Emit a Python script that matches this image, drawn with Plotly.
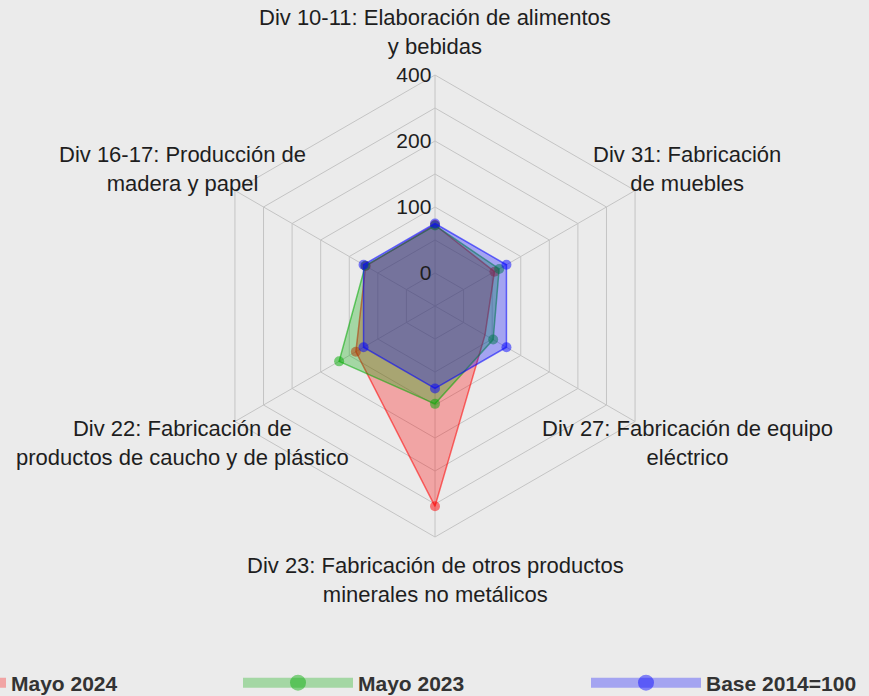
import numpy as np
import plotly.graph_objects as go

# ---- data -------------------------------------------------------------
CATEGORIES = [
    "Div 10-11: Elaboración de alimentos<br>y bebidas",
    "Div 31: Fabricación<br>de muebles",
    "Div 27: Fabricación de equipo<br>eléctrico",
    "Div 23: Fabricación de otros productos<br>minerales no metálicos",
    "Div 22: Fabricación de<br>productos de caucho y de plástico",
    "Div 16-17: Producción de<br>madera y papel",
]
MAYO_2024 = [97, 72, 50, 338, 118, 95]
MAYO_2023 = [96, 83, 69, 131, 157, 96]
BASE_2014 = [100, 100, 100, 100, 100, 100]
SERIES_NAMES = ["Mayo 2024", "Mayo 2023", "Base 2014=100"]

AXIS_MIN, AXIS_MAX, SEGMENTS = 0, 400, 6
RADIAL_TICK_LABELS = ["0", "", "100", "", "200", "", "400"]

# ---- styling ----------------------------------------------------------
BG = "#ebebeb"
GRID = "#c4c4c4"
TXT = "#1e1e1e"
FONT = "Liberation Sans, Arial, sans-serif"
RGB = ["255,0,0", "0,170,0", "0,0,255"]

W, H = 869, 696
R = 231
cx, cy = 435, 306
LABEL_SCALE_X, LABEL_SCALE_Y = 1.26, 1.185
LEGEND_TEXT_X = [11, 358, 706]   # px where each legend text starts
LEGEND_Y = 683
ITEMWIDTH = 110

step = (AXIS_MAX - AXIS_MIN) / SEGMENTS
r_lo = AXIS_MIN - step                       # centre of the web
tickvals = np.linspace(AXIS_MIN, AXIS_MAX, SEGMENTS + 1)

fig = go.Figure()

for name, vals, rgb in zip(SERIES_NAMES, [MAYO_2024, MAYO_2023, BASE_2014], RGB):
    r = list(vals) + [vals[0]]
    th = CATEGORIES + [CATEGORIES[0]]
    mcol = [f"rgba({rgb},0.5)"] * len(vals) + ["rgba(0,0,0,0)"]
    fig.add_trace(go.Scatterpolar(
        r=r, theta=th, mode="lines+markers", fill="toself",
        fillcolor=f"rgba({rgb},0.3)",
        line=dict(color=f"rgba({rgb},0.55)", width=1.5),
        marker=dict(color=mcol, size=10),
        name=name, showlegend=False, hoverinfo="skip",
    ))

# legend entries (one legend per entry, laid out in a row)
legend_ids = ["legend", "legend2", "legend3"]
for name, rgb, lid in zip(SERIES_NAMES, RGB, legend_ids):
    fig.add_trace(go.Scatterpolar(
        r=[None], theta=[CATEGORIES[0]], mode="lines+markers",
        line=dict(color=f"rgba({rgb},0.3)", width=10),
        marker=dict(color=f"rgba({rgb},0.45)", size=20),
        name=name, showlegend=True, legend=lid,
    ))

legend_common = dict(
    orientation="h", xanchor="left", yanchor="middle",
    y=1 - LEGEND_Y / H, itemwidth=ITEMWIDTH,
    bgcolor="rgba(0,0,0,0)",
    font=dict(family=FONT, size=21, color="#333333", weight="bold"),
)
legend_layout = {}
for lid, tx in zip(legend_ids, LEGEND_TEXT_X):
    legend_layout[lid] = dict(legend_common, x=(tx - ITEMWIDTH - 10) / W)

# category labels around the web
annotations = []
n = len(CATEGORIES)
for i, lab in enumerate(CATEGORIES):
    ang = np.deg2rad(90 - 360 * i / n)
    px = cx + LABEL_SCALE_X * R * np.cos(ang)
    py = cy - LABEL_SCALE_Y * R * np.sin(ang)
    annotations.append(dict(
        x=px / W, y=1 - py / H, xref="paper", yref="paper",
        text=lab, showarrow=False, xanchor="center", yanchor="middle",
        align="center", font=dict(family=FONT, size=22, color=TXT),
    ))

fig.update_layout(
    width=W, height=H,
    paper_bgcolor=BG, plot_bgcolor=BG,
    margin=dict(l=0, r=0, t=0, b=0, autoexpand=False),
    font=dict(family=FONT, size=22, color=TXT),
    annotations=annotations,
    polar=dict(
        domain=dict(x=[(cx - R) / W, (cx + R) / W],
                    y=[(H - cy - R) / H, (H - cy + R) / H]),
        bgcolor=BG,
        gridshape="linear",
        angularaxis=dict(direction="clockwise", rotation=90,
                         showticklabels=False, ticks="",
                         gridcolor=GRID, gridwidth=1,
                         showline=True, linecolor=GRID, linewidth=1),
        radialaxis=dict(range=[r_lo, AXIS_MAX], angle=90, tickangle=90,
                        side="counterclockwise",
                        tickmode="array", tickvals=tickvals,
                        ticktext=RADIAL_TICK_LABELS, ticks="",
                        showline=False, gridcolor=GRID, gridwidth=1,
                        tickfont=dict(family=FONT, size=21, color=TXT)),
    ),
    **legend_layout,
)

fig.write_html("out.html", config={"displayModeBar": False},
               post_script="document.body.style.margin='0px';")
